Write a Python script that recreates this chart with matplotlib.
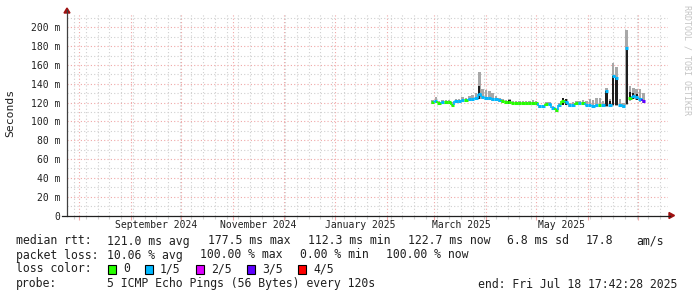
import matplotlib
matplotlib.use('Agg')
import matplotlib.pyplot as plt
import matplotlib.dates as mdates
from matplotlib.patches import Rectangle, Polygon
from matplotlib.lines import Line2D
import numpy as np
import pandas as pd

W, H = 697, 297

# ---- data: one sample every 2 days starting 2025-02-28 ----
t0 = '2025-02-28'
median = [121, 122, 120, 121, 121, 121, 118, 122, 122, 123,
          123, 124, 124, 125, 129, 126, 125, 125, 124, 124,
          123, 122, 121, 121, 120, 120, 120, 120, 120, 120,
          120, 120, 116, 116, 119, 119, 114, 112, 117, 122,
          121, 117, 118, 120, 120, 120, 118, 117, 116, 117,
          117, 117, 132, 117, 148, 146, 117, 116, 178, 125,
          127, 126, 124, 122]
loss = [0, 1, 0, 1, 0, 0, 0, 1, 1, 1,
        0, 1, 1, 1, 1, 1, 1, 1, 1, 1,
        1, 0, 0, 0, 0, 0, 0, 0, 0, 0,
        0, 0, 1, 1, 0, 1, 1, 0, 1, 0,
        1, 1, 1, 0, 1, 0, 1, 1, 1, 1,
        0, 1, 1, 1, 1, 1, 1, 1, 1, 0,
        1, 1, 1, 3]
smoke_hi = [123, 126, 122, 123, 123, 123, 121, 124, 124, 126,
            125, 127, 128, 130, 153, 135, 133, 132, 130, 127,
            125, 124, 123, 124, 122, 122, 122, 122, 122, 122,
            123, 122, 118, 118, 121, 121, 116, 114, 120, 124,
            124, 120, 121, 122, 122, 123, 122, 124, 123, 125,
            125, 122, 136, 124, 162, 158, 124, 120, 197, 138,
            136, 135, 134, 130]
smoke_lo = [119, 120, 118, 119, 119, 119, 116, 120, 120, 121,
            121, 122, 122, 123, 124, 124, 123, 123, 122, 122,
            121, 120, 119, 119, 118, 118, 118, 118, 118, 118,
            118, 118, 114, 114, 117, 117, 112, 110, 115, 119,
            119, 115, 116, 118, 118, 118, 116, 115, 114, 115,
            115, 115, 115, 115, 116, 116, 115, 114, 118, 122,
            124, 123, 121, 120]
# black (dense) smoke: bottom and top, 0 = none
dark_lo = [0, 0, 0, 0, 0, 0, 0, 0, 0, 0,
           0, 0, 0, 0, 124, 0, 0, 0, 0, 0,
           0, 0, 0, 119, 0, 0, 0, 0, 0, 0,
           0, 0, 0, 0, 0, 0, 0, 0, 0, 117,
           117, 0, 0, 0, 0, 0, 0, 0, 0, 0,
           0, 0, 116, 117, 117, 117, 0, 0, 119, 123,
           124, 123, 0, 0]
dark_hi = [0, 0, 0, 0, 0, 0, 0, 0, 0, 0,
           0, 0, 0, 0, 138, 0, 0, 0, 0, 0,
           0, 0, 0, 123, 0, 0, 0, 0, 0, 0,
           0, 0, 0, 0, 0, 0, 0, 0, 0, 125,
           124, 0, 0, 0, 0, 0, 0, 0, 0, 0,
           0, 0, 132, 122, 148, 146, 0, 0, 178, 131,
           130, 129, 0, 0]

loss_colors = ['#26ff00', '#00b8ff', '#dd00ff', '#5e00ff', '#ff0000']
loss_names = ['0', '1/5', '2/5', '3/5', '4/5']

month_labels = ['September 2024', 'November 2024', 'January 2025', 'March 2025', 'May 2025']
month_label_pos = ['2024-09-16', '2024-11-16', '2025-01-16', '2025-03-17', '2025-05-16']

ytick_vals = [0, 20, 40, 60, 80, 100, 120, 140, 160, 180, 200]
ytick_labels = ['0', '20 m', '40 m', '60 m', '80 m', '100 m', '120 m', '140 m', '160 m', '180 m', '200 m']

t_end = pd.Timestamp('2025-07-18 17:42:28')
t_start = t_end - pd.Timedelta(days=359.1)

MONO = 'DejaVu Sans Mono'


def fx(x):
    return x / W


def fy(y):
    return 1 - y / H


fig = plt.figure(figsize=(W / 100, H / 100), dpi=100)
fig.patch.set_facecolor('white')
ax = fig.add_axes([fx(67), fy(215.5), (668 - 67) / W, (215.5 - 13.3) / H])
ax.set_facecolor('white')

xs = mdates.date2num(pd.date_range(t0, periods=len(median), freq='2D').to_pydatetime())
med = np.array(median, dtype=float)
hi = np.array(smoke_hi, dtype=float)
lo = np.array(smoke_lo, dtype=float)
dl = np.array(dark_lo, dtype=float)
dh = np.array(dark_hi, dtype=float)

# smoke
ax.bar(xs, hi - lo, bottom=lo, width=1.5, color='#a8a8a8', lw=0, zorder=2)
m = dh > 0
ax.bar(xs[m], dh[m] - dl[m], bottom=dl[m], width=1.3, color='#1e1e1e', lw=0, zorder=3)

# median line, coloured by loss
for i in range(len(med)):
    c = loss_colors[loss[i]]
    ax.plot([xs[i] - 1, xs[i] + 1], [med[i], med[i]], color=c, lw=2.2,
            solid_capstyle='butt', zorder=4)
    if i > 0 and abs(med[i] - med[i - 1]) < 6:
        ax.plot([xs[i] - 1, xs[i] - 1], [med[i - 1], med[i]], color=c, lw=1.2,
                solid_capstyle='butt', zorder=4)

ax.set_xlim(mdates.date2num(t_start.to_pydatetime()), mdates.date2num(t_end.to_pydatetime()))
ax.set_ylim(0, 215)

# grid
ax.xaxis.set_major_locator(mdates.MonthLocator())
ax.xaxis.set_minor_locator(mdates.WeekdayLocator(byweekday=mdates.MO))
ax.set_yticks(ytick_vals)
ax.set_yticklabels(ytick_labels, fontfamily=MONO, fontsize=7, color='#202020')
ax.yaxis.set_minor_locator(matplotlib.ticker.MultipleLocator(10))
ax.set_xticklabels([])
ax.set_axisbelow(True)
ax.grid(which='major', color='#f0a8a8', lw=0.8, ls=(0, (1, 2)))
ax.grid(which='minor', color='#d0d0d0', lw=0.8, ls=(0, (1, 2)))
ax.tick_params(axis='y', which='both', length=0, pad=5)
ax.tick_params(axis='x', which='major', length=3, color='#f0a8a8', width=0.8)
ax.tick_params(axis='x', which='minor', length=2, color='#d0d0d0', width=0.8)
for s in ax.spines.values():
    s.set_visible(False)

for lab, pos in zip(month_labels, month_label_pos):
    ax.text(mdates.date2num(pd.Timestamp(pos).to_pydatetime()), -9.8 / 202.2, lab,
            transform=ax.get_xaxis_transform(), ha='center', va='center',
            fontfamily=MONO, fontsize=7, color='#202020')

# axis lines and arrows
fig.add_artist(Line2D([fx(67), fx(67)], [fy(215.5), fy(10)], color='#404040', lw=0.9))
fig.add_artist(Line2D([fx(62), fx(670)], [fy(215.5), fy(215.5)], color='#202020', lw=0.9))
fig.add_artist(Polygon([(fx(64), fy(13)), (fx(70), fy(13)), (fx(67), fy(8))],
                       closed=True, color='#a01010', transform=fig.transFigure))
fig.add_artist(Polygon([(fx(669), fy(212.5)), (fx(669), fy(218.5)), (fx(674.5), fy(215.5))],
                       closed=True, color='#a01010', transform=fig.transFigure))

fig.text(fx(10), fy(113), 'Seconds', rotation=90, ha='center', va='center',
         fontfamily=MONO, fontsize=8.2, color='#202020')
fig.text(fx(687), fy(60), 'RRDTOOL / TOBI OETIKER', rotation=270, ha='center', va='center',
         fontfamily=MONO, fontsize=6, color='#c4c4c4')

# legend / stats
rows = [
    (241, [(16, 'median rtt:'), (107, '121.0 ms avg'), (208, '177.5 ms max'),
           (308, '112.3 ms min'), (408, '122.7 ms now'), (507, '6.8 ms sd'),
           (586, '17.8'), (636, 'am/s')]),
    (255, [(16, 'packet loss:'), (107, '10.06 % avg'), (200, '100.00 % max'),
           (300, '0.00 % min'), (386, '100.00 % now')]),
    (269, [(16, 'loss color:'), (123, '0'), (160, '1/5'), (211, '2/5'),
           (262, '3/5'), (313, '4/5')]),
    (284, [(16, 'probe:'), (107, '5 ICMP Echo Pings (56 Bytes) every 120s'),
           (478, 'end: Fri Jul 18 17:42:28 2025')]),
]
for y, items in rows:
    for x, s in items:
        fig.text(fx(x), fy(y), s, ha='left', va='center', fontfamily=MONO,
                 fontsize=8.3, color='#202020')

box_x = [108, 145, 196, 247, 298]
for bx, c in zip(box_x, loss_colors):
    fig.add_artist(Rectangle((fx(bx), fy(273.5)), 8 / W, 9 / H, facecolor=c,
                             edgecolor='black', lw=0.8, transform=fig.transFigure))

fig.savefig('out.png', dpi=100)
